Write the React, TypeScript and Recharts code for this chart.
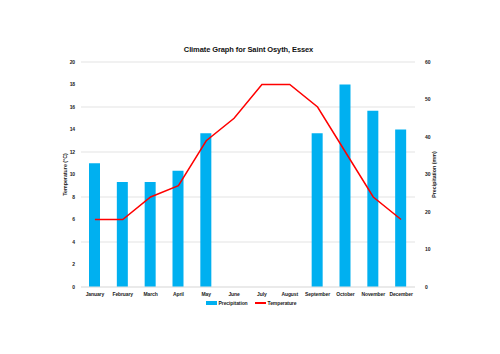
import React from "react";
import {
  ComposedChart,
  Bar,
  Line,
  XAxis,
  YAxis,
  CartesianGrid,
} from "recharts";

const months = [
  "January", "February", "March", "April", "May", "June",
  "July", "August", "September", "October", "November", "December",
];
const precipitation = [33, 28, 28, 31, 41, 0, 0, 0, 41, 54, 47, 42];
const temperature = [6, 6, 8, 9, 13, 15, 18, 18, 16, 12, 8, 6];
const tempTicks = [0, 2, 4, 6, 8, 10, 12, 14, 16, 18, 20];
const precipTicks = [0, 10, 20, 30, 40, 50, 60];

const data = months.map((m, i) => ({
  month: m,
  precipitation: precipitation[i],
  temperature: temperature[i],
}));

const FONT = "'Liberation Sans', Arial, sans-serif";
const TICK = { fontSize: 5, fill: "#222", fontFamily: FONT, fontWeight: "bold", letterSpacing: -0.1 };

export default function App() {
  return (
    <div style={{ position: "absolute", left: 0, top: 0, width: 500, height: 354, background: "#fff" }}>
      <div
        style={{
          position: "absolute",
          top: 45,
          left: 0,
          width: 497,
          textAlign: "center",
          fontFamily: FONT,
          fontWeight: "bold",
          fontSize: 7.5,
          letterSpacing: -0.1,
          color: "#111",
        }}
      >
        Climate Graph for Saint Osyth, Essex
      </div>
      <ComposedChart
        width={500}
        height={354}
        data={data}
        margin={{ top: 62, right: 45, bottom: 55, left: 40 }}
      >
        <CartesianGrid yAxisId="left" vertical={false} stroke="#e3e3e3" strokeWidth={1} />
        <XAxis
          dataKey="month"
          axisLine={{ stroke: "#e3e3e3" }}
          tickLine={false}
          interval={0}
          height={12}
          tick={TICK}
          tickSize={0}
          tickMargin={5}
        />
        <YAxis
          yAxisId="left"
          orientation="left"
          domain={[0, 20]}
          ticks={tempTicks}
          width={41}
          axisLine={false}
          tickLine={false}
          tickSize={4}
          tickMargin={2}
          tick={TICK}
          label={{
            value: "Temperature (°C)",
            angle: -90,
            position: "insideLeft",
            offset: 25,
            style: { fontSize: 5.3, fill: "#222", fontFamily: FONT, fontWeight: "bold", textAnchor: "middle" },
          }}
        />
        <YAxis
          yAxisId="right"
          orientation="right"
          domain={[0, 60]}
          ticks={precipTicks}
          width={40}
          axisLine={false}
          tickLine={false}
          tickSize={6}
          tickMargin={4}
          tick={TICK}
          label={{
            value: "Precipitation (mm)",
            angle: -90,
            position: "insideRight",
            offset: 21,
            style: { fontSize: 5.3, fill: "#222", fontFamily: FONT, fontWeight: "bold", textAnchor: "middle" },
          }}
        />
        <Bar
          yAxisId="right"
          dataKey="precipitation"
          name="Precipitation"
          fill="#00B0F0"
          barSize={11}
          isAnimationActive={false}
        />
        <Line
          yAxisId="left"
          dataKey="temperature"
          name="Temperature"
          stroke="#FF0000"
          strokeWidth={1.5}
          dot={false}
          activeDot={false}
          type="linear"
          isAnimationActive={false}
        />
      </ComposedChart>
      <div
        style={{
          position: "absolute",
          top: 300,
          left: 0,
          width: 502,
          display: "flex",
          justifyContent: "center",
          alignItems: "center",
          fontFamily: FONT,
          fontSize: 5,
          fontWeight: "bold",
          letterSpacing: -0.1,
          color: "#222",
          gap: 7,
          lineHeight: "6px",
        }}
      >
        <span style={{ display: "flex", alignItems: "center" }}>
          <span style={{ display: "inline-block", width: 11, height: 4, background: "#00B0F0", marginRight: 2 }} />
          Precipitation
        </span>
        <span style={{ display: "flex", alignItems: "center" }}>
          <span style={{ display: "inline-block", width: 11, height: 1.5, background: "#FF0000", marginRight: 2 }} />
          Temperature
        </span>
      </div>
    </div>
  );
}
